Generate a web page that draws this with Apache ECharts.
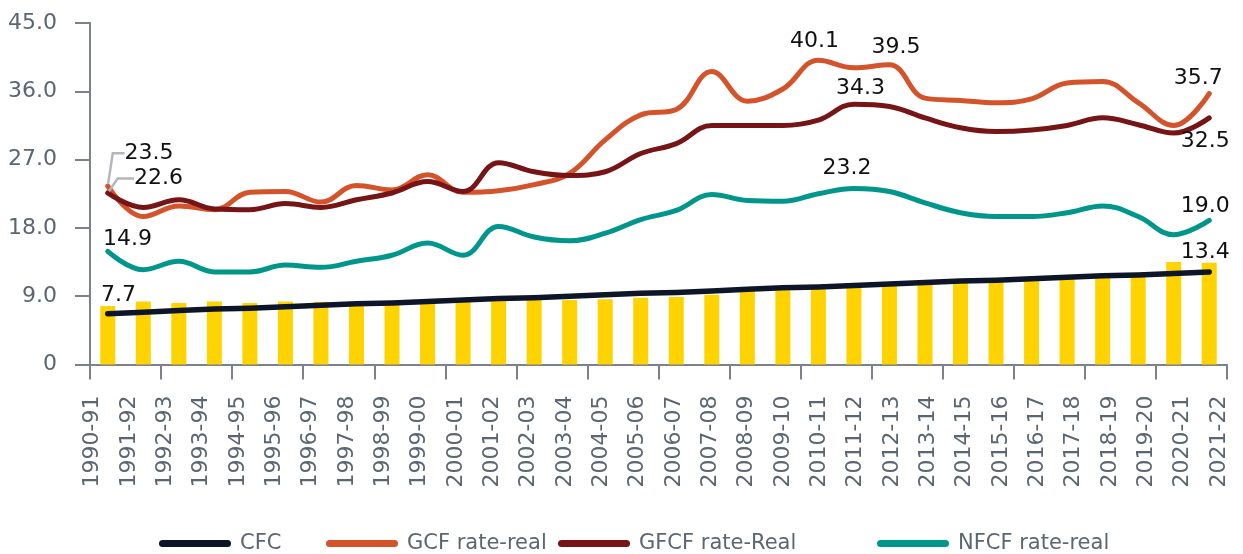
<!DOCTYPE html>
<html>
<head>
<meta charset="utf-8">
<title>Capital formation rates</title>
<script src="https://cdn.jsdelivr.net/npm/echarts@6/dist/echarts.min.js"></script>
<style>
  html, body { margin: 0; padding: 0; background: #ffffff; }
  #chart { width: 1243px; height: 554px; }
</style>
</head>
<body>
<div id="chart"></div>
<script>
// Fiscal years on the category axis
const periods = [
  '1990-91', '1991-92', '1992-93', '1993-94', '1994-95', '1995-96', '1996-97', '1997-98',
  '1998-99', '1999-00', '2000-01', '2001-02', '2002-03', '2003-04', '2004-05', '2005-06',
  '2006-07', '2007-08', '2008-09', '2009-10', '2010-11', '2011-12', '2012-13', '2013-14',
  '2014-15', '2015-16', '2016-17', '2017-18', '2018-19', '2019-20', '2020-21', '2021-22'
];

// Consumption of fixed capital (bars) and its straight CFC line
const cfcBars = [
  7.7, 8.3, 8.1, 8.3, 8.1, 8.3, 8.25, 8.1, 8.2, 8.3, 8.4, 8.5, 8.6, 8.5, 8.6, 8.8,
  8.9, 9.2, 9.7, 9.8, 10.0, 10.1, 10.5, 10.7, 10.9, 11.0, 11.2, 11.3, 11.5, 11.7, 13.5, 13.4
];
const cfcLine = [
  6.7, 6.9, 7.1, 7.3, 7.4, 7.6, 7.8, 8.0, 8.1, 8.3, 8.5, 8.7, 8.8, 9.0, 9.2, 9.4,
  9.5, 9.7, 9.9, 10.1, 10.2, 10.4, 10.6, 10.8, 11.0, 11.1, 11.3, 11.5, 11.7, 11.8, 12.0, 12.2
];

// Gross capital formation rate (real)
const gcfRate = [
  23.5, 19.5, 20.9, 20.4, 22.7, 22.8, 21.4, 23.6, 23.0, 25.0, 22.7, 22.9, 23.7, 25.2, 29.6, 32.9,
  33.6, 38.6, 34.7, 36.3, 40.1, 39.1, 39.5, 35.1, 34.8, 34.5, 35.0, 37.1, 37.3, 34.5, 31.5, 35.7
];

// Gross fixed capital formation rate (real)
const gfcfRate = [
  22.6, 20.7, 21.7, 20.5, 20.4, 21.2, 20.7, 21.7, 22.6, 24.1, 22.8, 26.6, 25.4, 24.9, 25.4, 27.8,
  29.1, 31.5, 31.5, 31.5, 32.2, 34.3, 34.0, 32.5, 31.2, 30.7, 30.9, 31.5, 32.5, 31.6, 30.5, 32.5
];

// Net fixed capital formation rate (real)
const nfcfRate = [
  14.9, 12.5, 13.6, 12.2, 12.2, 13.1, 12.8, 13.6, 14.4, 16.0, 14.4, 18.2, 16.8, 16.3, 17.3, 19.1,
  20.3, 22.4, 21.6, 21.5, 22.5, 23.2, 22.8, 21.3, 20.0, 19.5, 19.5, 20.0, 20.9, 19.5, 17.1, 19.0
];

// Legend entries
const legendNames = ['CFC', 'GCF rate-real', 'GFCF rate-Real', 'NFCF rate-real'];

// Y axis range and step
const yMin = 0, yMax = 45, yStep = 9;

// ---- styling ----
const FONT = 'DejaVu Sans';
const AXIS_GREY = '#7b828b';
const TEXT_GREY = '#5c6672';
const COLORS = {
  bar: '#FFD300',
  cfc: '#0c1628',
  gcf: '#D4532A',
  gfcf: '#761416',
  nfcf: '#00968B'
};
const legendColors = [COLORS.cfc, COLORS.gcf, COLORS.gfcf, COLORS.nfcf];
const legendLeft = [159, 326, 558, 877];
const CAPSULE = 'path://M3.5,0 L68.5,0 A3.5,3.5 0 0 1 68.5,7 L3.5,7 A3.5,3.5 0 0 1 3.5,0 Z';

const valueLabel = {
  show: true,
  fontFamily: FONT,
  fontSize: 22,
  color: '#111111',
  formatter: p => Number(p.value).toFixed(1)
};

// Placement of the value call-outs (pixel offsets from the point)
const labelPlacement = {
  gcf: {
    0: { align: 'left', offset: [11.7, -33], padding: [0, 0, 0, 5], leader: 11.7 },
    20: { offset: [-4, -19] },
    22: { offset: [6.6, -17] },
    31: { offset: [-11, -15] }
  },
  gfcf: {
    0: { align: 'left', offset: [21.2, -14.5], padding: [0, 0, 0, 5], leader: 16.3 },
    21: { offset: [6.5, -16] },
    31: { offset: [-4, 23.5] }
  },
  nfcf: {
    0: { offset: [19.7, -12.6] },
    21: { offset: [-7, -20.4] },
    31: { offset: [-4, -14.5] }
  },
  bar: {
    0: { offset: [10.7, -11] },
    31: { offset: [-4, -10.5] }
  }
};

function lineData(values, places) {
  return values.map((v, i) => {
    const p = places[i];
    if (!p) return v;
    const item = {
      value: v,
      symbol: 'circle',
      symbolSize: 4,
      label: Object.assign({}, valueLabel, {
        position: 'inside',
        align: p.align || 'center',
        verticalAlign: 'middle',
        offset: p.offset,
        padding: p.padding || 0
      })
    };
    if (p.leader) {
      item.labelLine = {
        show: true,
        length2: p.leader,
        lineStyle: { color: '#b3b7bb', width: 2.5 }
      };
    }
    return item;
  });
}

function barData(values, places) {
  return values.map((v, i) => {
    const p = places[i];
    if (!p) return v;
    return {
      value: v,
      label: Object.assign({}, valueLabel, {
        position: ['50%', 0],
        align: 'center',
        verticalAlign: 'middle',
        offset: p.offset
      })
    };
  });
}

function lineSeries(name, values, color, places, width, smooth, z) {
  return {
    name: name,
    type: 'line',
    data: lineData(values, places),
    xAxisIndex: 0,
    yAxisIndex: 0,
    symbol: 'none',
    showSymbol: true,
    smooth: smooth,
    z: z,
    itemStyle: { color: color },
    lineStyle: { color: color, width: width, cap: 'round', join: 'round' },
    emphasis: { disabled: true },
    silent: true
  };
}

// One legend block per entry so each sits at its own spot on the row
const legends = legendNames.map((name, i) => ({
  left: legendLeft[i],
  top: 533,
  padding: 0,
  itemWidth: 72,
  itemHeight: 7,
  selectedMode: false,
  textStyle: {
    fontFamily: FONT,
    fontSize: 21,
    color: TEXT_GREY,
    padding: [0, 0, 0, 4]
  },
  data: [{
    name: name,
    icon: CAPSULE,
    itemStyle: { color: legendColors[i], borderWidth: 0 }
  }]
}));

const chart = echarts.init(document.getElementById('chart'), null, { renderer: 'canvas' });

chart.setOption({
  animation: false,
  backgroundColor: '#ffffff',
  textStyle: { fontFamily: FONT },
  grid: [
    { left: 90, right: 16, top: 23, bottom: 189.5 },
    { left: 92.5, right: 24, top: 23, bottom: 189.5 }
  ],
  xAxis: [
    {
      type: 'category',
      gridIndex: 0,
      data: periods,
      boundaryGap: true,
      axisLine: { show: true, lineStyle: { color: AXIS_GREY, width: 2 } },
      axisTick: { show: true, length: 15, lineStyle: { color: AXIS_GREY, width: 2 } },
      axisLabel: { show: false }
    },
    {
      type: 'category',
      gridIndex: 1,
      data: periods,
      boundaryGap: false,
      axisLine: { show: false },
      axisTick: { show: false },
      axisLabel: {
        show: true,
        interval: 0,
        rotate: 90,
        margin: 31,
        fontFamily: FONT,
        fontSize: 22,
        color: TEXT_GREY
      }
    }
  ],
  yAxis: [
    {
      type: 'value',
      gridIndex: 0,
      min: yMin,
      max: yMax,
      interval: yStep,
      axisLine: { show: true, lineStyle: { color: AXIS_GREY, width: 2 } },
      axisTick: { show: true, length: 15, lineStyle: { color: AXIS_GREY, width: 2 } },
      splitLine: { show: false },
      axisLabel: {
        margin: 33,
        fontFamily: FONT,
        fontSize: 22,
        color: TEXT_GREY,
        formatter: v => (v === 0 ? '0' : v.toFixed(1))
      }
    },
    { type: 'value', gridIndex: 1, min: yMin, max: yMax, show: false }
  ],
  legend: legends,
  series: [
    {
      name: 'CFC bars',
      type: 'bar',
      xAxisIndex: 0,
      yAxisIndex: 0,
      data: barData(cfcBars, labelPlacement.bar),
      barWidth: 15,
      z: 1,
      itemStyle: { color: COLORS.bar },
      emphasis: { disabled: true },
      silent: true
    },
    lineSeries(legendNames[0], cfcLine, COLORS.cfc, {}, 5.5, false, 3),
    lineSeries(legendNames[1], gcfRate, COLORS.gcf, labelPlacement.gcf, 5, 0.4, 4),
    lineSeries(legendNames[2], gfcfRate, COLORS.gfcf, labelPlacement.gfcf, 5, 0.4, 5),
    lineSeries(legendNames[3], nfcfRate, COLORS.nfcf, labelPlacement.nfcf, 5, 0.4, 4)
  ]
});
</script>
</body>
</html>
